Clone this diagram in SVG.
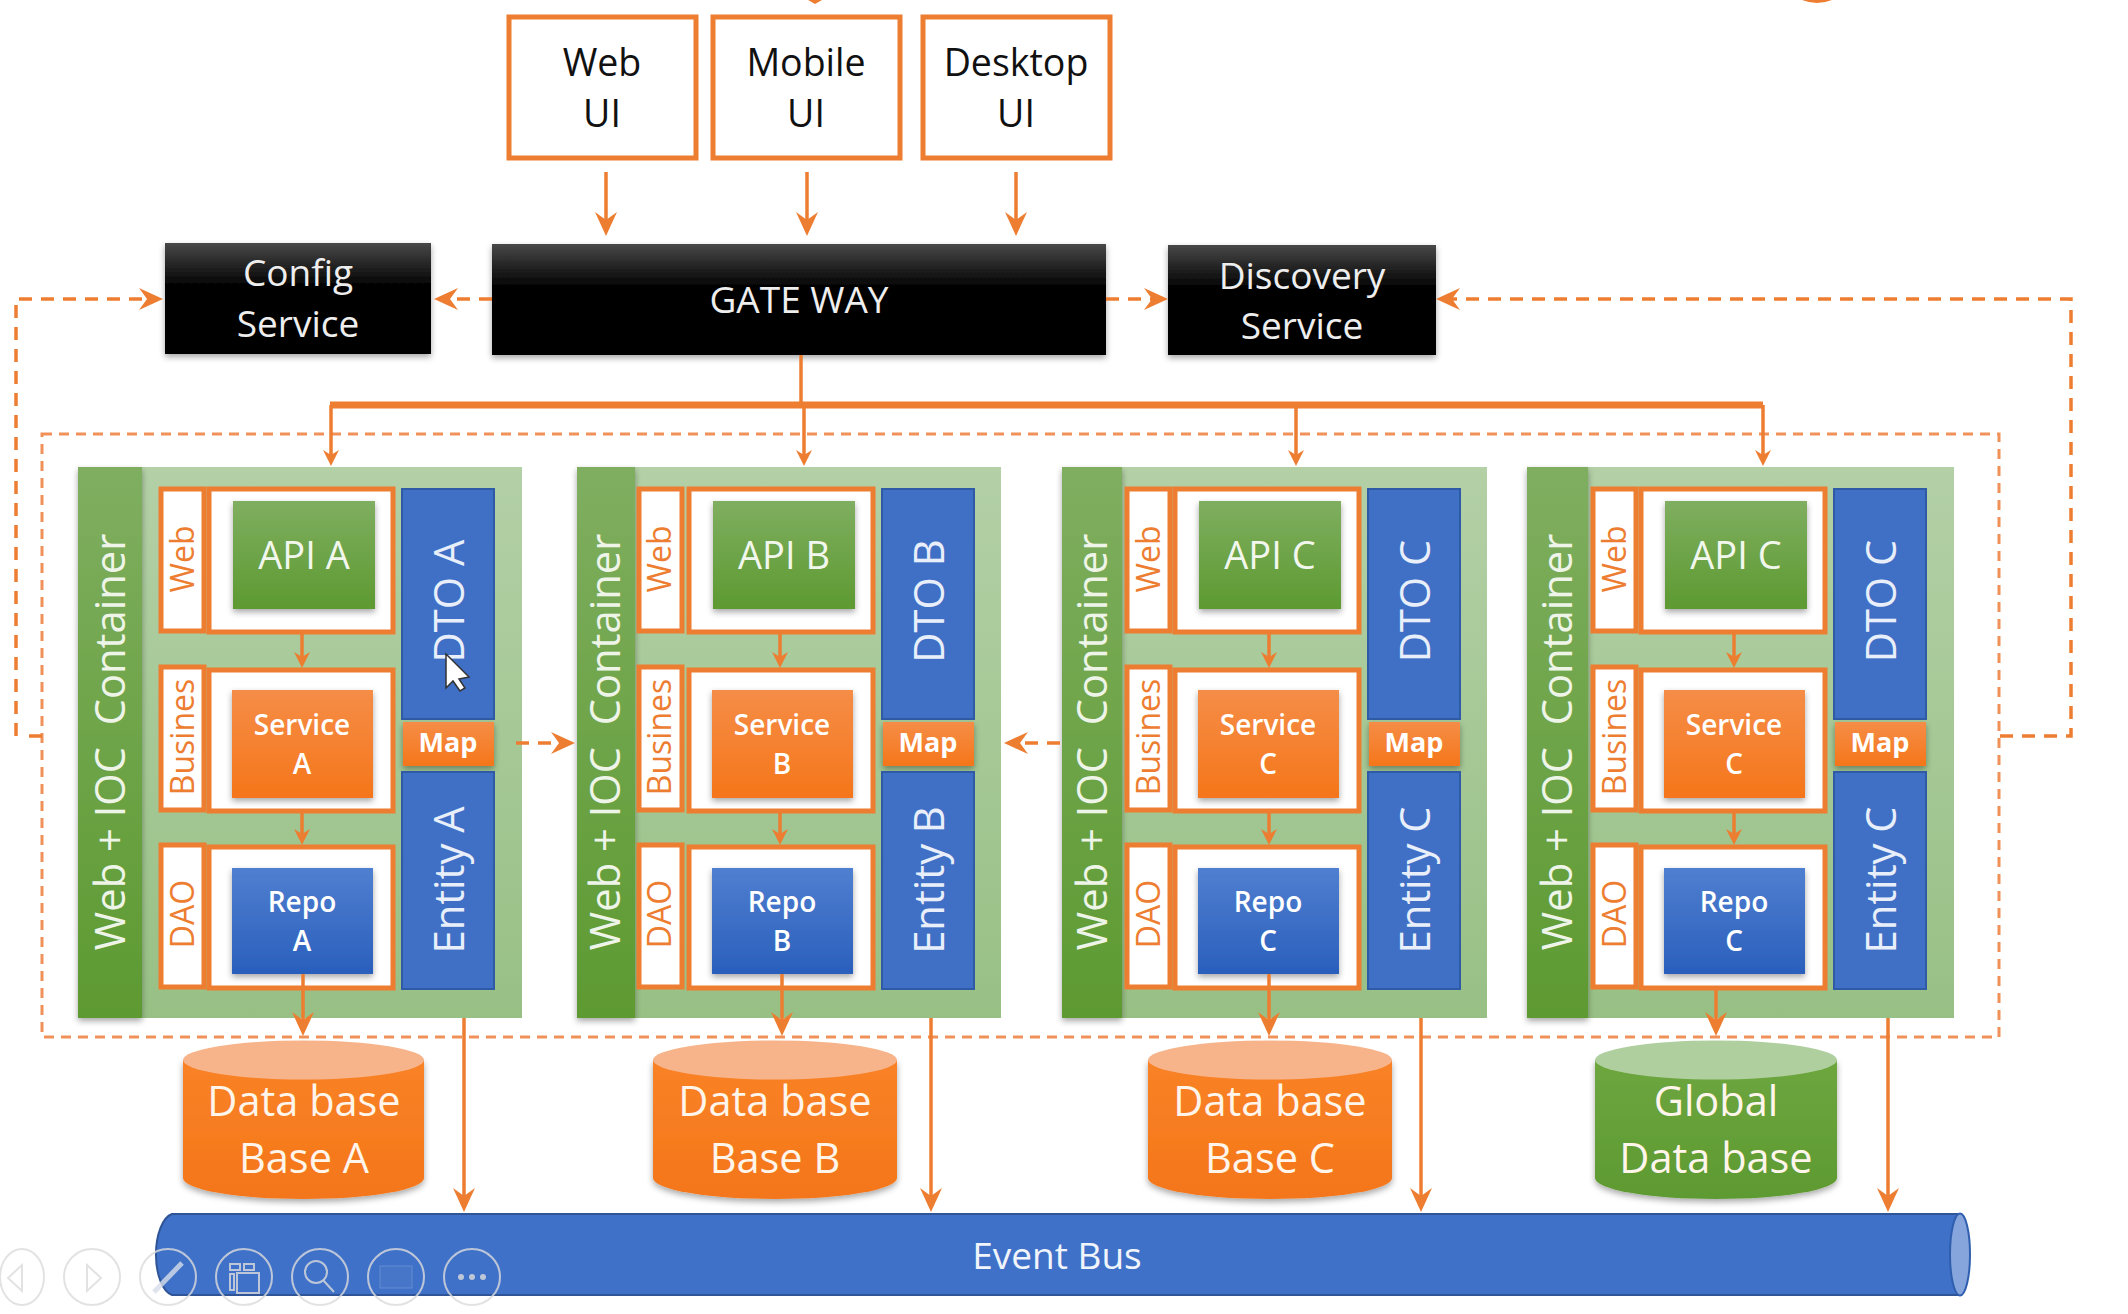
<svg xmlns="http://www.w3.org/2000/svg" width="2128" height="1314" viewBox="0 0 2128 1314">
<style>
text{font-family:"Open Sans","Noto Sans","Liberation Sans",sans-serif;text-anchor:middle;white-space:pre}
.ui{fill:#fff;stroke:#ed7d31;stroke-width:5}
.t-ui{font-size:37.500px;fill:#111}
.t-blk{font-size:37px;fill:#eee}
.blk{fill:url(#gBlack);filter:url(#sh)}
.bg{fill:url(#gBg)}
.strip{fill:url(#gGreen);filter:url(#sh)}
.t-strip{font-size:41.700px;fill:#eef5e8}
.lab{fill:#fff;stroke:#ed7d31;stroke-width:5}
.t-lab{font-size:32px;fill:#ed7d31}
.api{fill:url(#gGreen);filter:url(#sh)}
.t-api{font-size:38px;fill:#f2f7ee}
.svc{fill:url(#gOrange);filter:url(#sh)}
.rep{fill:url(#gBlue);filter:url(#sh)}
.t-sm{font-size:28px;font-weight:600;fill:#fff}
.dto{fill:#4070c6;stroke:#2f5ba6;stroke-width:2}
.t-dto{font-size:41.700px;fill:#e8effa}
.map{fill:url(#gOrange);filter:url(#sh)}
.t-map{font-size:27px;font-weight:700;fill:#fff}
.t-db{font-size:41.500px;fill:#fff5ea}
.c{fill:none;stroke:#ed7d31;stroke-width:3.500}
.d{fill:none;stroke:#ed7d31;stroke-width:3.500;stroke-dasharray:13 9}
.box{fill:none;stroke:#f0915a;stroke-width:3;stroke-dasharray:10 7}
.tool{fill:none;stroke:#dcdcdc;stroke-width:2}
.ah{fill:#ed7d31}
</style>
<defs>
<linearGradient id="gBlack" x1="0" y1="0" x2="0" y2="1"><stop offset="0" stop-color="#484848"/><stop offset=".4" stop-color="#000"/></linearGradient>
<linearGradient id="gBg" x1="0" y1="0" x2="0" y2="1"><stop offset="0" stop-color="#b3d0a6"/><stop offset="1" stop-color="#98c085"/></linearGradient>
<linearGradient id="gGreen" x1="0" y1="0" x2="0" y2="1"><stop offset="0" stop-color="#7fae60"/><stop offset="1" stop-color="#5d9a31"/></linearGradient>
<linearGradient id="gOrange" x1="0" y1="0" x2="0" y2="1"><stop offset="0" stop-color="#f58d47"/><stop offset="1" stop-color="#f5761a"/></linearGradient>
<linearGradient id="gDb" x1="0" y1="0" x2="0" y2="1"><stop offset="0" stop-color="#f98226"/><stop offset="1" stop-color="#f4761a"/></linearGradient>
<linearGradient id="gDbG" x1="0" y1="0" x2="0" y2="1"><stop offset="0" stop-color="#6ea63f"/><stop offset="1" stop-color="#5d9a31"/></linearGradient>
<linearGradient id="gBlue" x1="0" y1="0" x2="0" y2="1"><stop offset="0" stop-color="#4f7fd0"/><stop offset="1" stop-color="#2a5fbc"/></linearGradient>
<filter id="sh" x="-10%" y="-10%" width="120%" height="125%"><feDropShadow dx="0" dy="3" stdDeviation="3" flood-color="#000" flood-opacity=".35"/></filter>
<marker id="aB" markerUnits="userSpaceOnUse" markerWidth="26" markerHeight="24" refX="10" refY="12" orient="auto"><path class="ah" d="M0 1L24 12L0 23L8 12Z"/></marker>
<marker id="aS" markerUnits="userSpaceOnUse" markerWidth="18" markerHeight="18" refX="6" refY="9" orient="auto"><path class="ah" d="M0 1L16 9L0 17L5 9Z"/></marker>
</defs>
<rect width="2128" height="1314" fill="#fff"/>

<rect id="group-boundary" class="box" x="42" y="434" width="1957" height="603"/>
<path id="cut-off-top" d="M808 0H822L815 4ZM1802 0H1832Q1817 6 1802 0Z" fill="#ed7d31"/>

<g id="ui-web"><rect class="ui" x="509" y="17" width="187" height="141"/><text class="t-ui" x="602" y="76">Web</text><text class="t-ui" x="602" y="127">UI</text></g>
<g id="ui-mobile"><rect class="ui" x="713" y="17" width="187" height="141"/><text class="t-ui" x="806" y="76">Mobile</text><text class="t-ui" x="806" y="127">UI</text></g>
<g id="ui-desktop"><rect class="ui" x="923" y="17" width="187" height="141"/><text class="t-ui" x="1016" y="76">Desktop</text><text class="t-ui" x="1016" y="127">UI</text></g>

<g id="config-service"><rect class="blk" x="165" y="243" width="266" height="111"/><text class="t-blk" x="298" y="286">Config</text><text class="t-blk" x="298" y="337">Service</text></g>
<g id="gateway"><rect class="blk" x="492" y="244" width="614" height="111"/><text class="t-blk" x="799" y="313">GATE WAY</text></g>
<g id="discovery-service"><rect class="blk" x="1168" y="245" width="268" height="110"/><text class="t-blk" x="1302" y="289">Discovery</text><text class="t-blk" x="1302" y="339">Service</text></g>

<g id="container-a">
<rect class="bg" x="78" y="467" width="444" height="551"/>
<rect class="strip" x="78" y="467" width="64" height="551"/>
<text class="t-strip" transform="translate(125 742) rotate(-90)">Web + IOC  Container</text>
<rect class="lab" x="161" y="489" width="43" height="142"/><text class="t-lab" transform="translate(194 559) rotate(-90)">Web</text>
<rect class="ui" x="209" y="489" width="184" height="143"/><rect class="api" x="233" y="501" width="142" height="108"/><text class="t-api" x="304" y="569">API A</text>
<rect class="lab" x="161" y="667" width="43" height="143"/><text class="t-lab" transform="translate(194 737) rotate(-90)">Busines</text>
<rect class="ui" x="209" y="670" width="184" height="141"/><rect class="svc" x="232" y="690" width="141" height="108"/><text class="t-sm" x="302" y="735">Service</text><text class="t-sm" x="302" y="774">A</text>
<rect class="lab" x="161" y="845" width="43" height="142"/><text class="t-lab" transform="translate(194 914) rotate(-90)">DAO</text>
<rect class="ui" x="209" y="847" width="184" height="141"/><rect class="rep" x="232" y="868" width="141" height="106"/><text class="t-sm" x="302" y="912">Repo</text><text class="t-sm" x="302" y="951">A</text>
<rect class="dto" x="402" y="489" width="92" height="230"/><text class="t-dto" transform="translate(464 601) rotate(-90)">DTO A</text>
<rect class="map" x="403" y="722" width="91" height="44"/><text class="t-map" x="448" y="752">Map</text>
<rect class="dto" x="402" y="772" width="92" height="217"/><text class="t-dto" transform="translate(464 880) rotate(-90)">Entity A</text>
</g>

<g id="container-b">
<rect class="bg" x="577" y="467" width="424" height="551"/>
<rect class="strip" x="577" y="467" width="58" height="551"/>
<text class="t-strip" transform="translate(620 742) rotate(-90)">Web + IOC  Container</text>
<g transform="translate(480 0)">
<rect class="lab" x="159" y="489" width="43" height="142"/><text class="t-lab" transform="translate(191 559) rotate(-90)">Web</text>
<rect class="ui" x="209" y="489" width="184" height="143"/><rect class="api" x="233" y="501" width="142" height="108"/><text class="t-api" x="304" y="569">API B</text>
<rect class="lab" x="159" y="667" width="43" height="143"/><text class="t-lab" transform="translate(191 737) rotate(-90)">Busines</text>
<rect class="ui" x="209" y="670" width="184" height="141"/><rect class="svc" x="232" y="690" width="141" height="108"/><text class="t-sm" x="302" y="735">Service</text><text class="t-sm" x="302" y="774">B</text>
<rect class="lab" x="159" y="845" width="43" height="142"/><text class="t-lab" transform="translate(191 914) rotate(-90)">DAO</text>
<rect class="ui" x="209" y="847" width="184" height="141"/><rect class="rep" x="232" y="868" width="141" height="106"/><text class="t-sm" x="302" y="912">Repo</text><text class="t-sm" x="302" y="951">B</text>
<rect class="dto" x="402" y="489" width="92" height="230"/><text class="t-dto" transform="translate(464 601) rotate(-90)">DTO B</text>
<rect class="map" x="403" y="722" width="91" height="44"/><text class="t-map" x="448" y="752">Map</text>
<rect class="dto" x="402" y="772" width="92" height="217"/><text class="t-dto" transform="translate(464 880) rotate(-90)">Entity B</text>
</g></g>

<g id="container-c">
<rect class="bg" x="1062" y="467" width="425" height="551"/>
<rect class="strip" x="1062" y="467" width="60" height="551"/>
<text class="t-strip" transform="translate(1107 742) rotate(-90)">Web + IOC  Container</text>
<g transform="translate(966 0)">
<rect class="lab" x="161" y="489" width="43" height="142"/><text class="t-lab" transform="translate(194 559) rotate(-90)">Web</text>
<rect class="ui" x="209" y="489" width="184" height="143"/><rect class="api" x="233" y="501" width="142" height="108"/><text class="t-api" x="304" y="569">API C</text>
<rect class="lab" x="161" y="667" width="43" height="143"/><text class="t-lab" transform="translate(194 737) rotate(-90)">Busines</text>
<rect class="ui" x="209" y="670" width="184" height="141"/><rect class="svc" x="232" y="690" width="141" height="108"/><text class="t-sm" x="302" y="735">Service</text><text class="t-sm" x="302" y="774">C</text>
<rect class="lab" x="161" y="845" width="43" height="142"/><text class="t-lab" transform="translate(194 914) rotate(-90)">DAO</text>
<rect class="ui" x="209" y="847" width="184" height="141"/><rect class="rep" x="232" y="868" width="141" height="106"/><text class="t-sm" x="302" y="912">Repo</text><text class="t-sm" x="302" y="951">C</text>
<rect class="dto" x="402" y="489" width="92" height="230"/><text class="t-dto" transform="translate(464 601) rotate(-90)">DTO C</text>
<rect class="map" x="403" y="722" width="91" height="44"/><text class="t-map" x="448" y="752">Map</text>
<rect class="dto" x="402" y="772" width="92" height="217"/><text class="t-dto" transform="translate(464 880) rotate(-90)">Entity C</text>
</g></g>

<g id="container-d">
<rect class="bg" x="1527" y="467" width="427" height="551"/>
<rect class="strip" x="1527" y="467" width="61" height="551"/>
<text class="t-strip" transform="translate(1572 742) rotate(-90)">Web + IOC  Container</text>
<g transform="translate(1432 0)">
<rect class="lab" x="161" y="489" width="43" height="142"/><text class="t-lab" transform="translate(194 559) rotate(-90)">Web</text>
<rect class="ui" x="209" y="489" width="184" height="143"/><rect class="api" x="233" y="501" width="142" height="108"/><text class="t-api" x="304" y="569">API C</text>
<rect class="lab" x="161" y="667" width="43" height="143"/><text class="t-lab" transform="translate(194 737) rotate(-90)">Busines</text>
<rect class="ui" x="209" y="670" width="184" height="141"/><rect class="svc" x="232" y="690" width="141" height="108"/><text class="t-sm" x="302" y="735">Service</text><text class="t-sm" x="302" y="774">C</text>
<rect class="lab" x="161" y="845" width="43" height="142"/><text class="t-lab" transform="translate(194 914) rotate(-90)">DAO</text>
<rect class="ui" x="209" y="847" width="184" height="141"/><rect class="rep" x="232" y="868" width="141" height="106"/><text class="t-sm" x="302" y="912">Repo</text><text class="t-sm" x="302" y="951">C</text>
<rect class="dto" x="402" y="489" width="92" height="230"/><text class="t-dto" transform="translate(464 601) rotate(-90)">DTO C</text>
<rect class="map" x="403" y="722" width="91" height="44"/><text class="t-map" x="448" y="752">Map</text>
<rect class="dto" x="402" y="772" width="92" height="217"/><text class="t-dto" transform="translate(464 880) rotate(-90)">Entity C</text>
</g></g>

<g id="db-a"><path d="M183 1060V1178A120.500 21 0 0 0 424 1178V1060Z" fill="url(#gDb)" filter="url(#sh)"/><ellipse cx="303.500" cy="1060" rx="120.500" ry="19.500" fill="#f7b48a"/><text class="t-db" x="304" y="1116">Data base</text><text class="t-db" x="304" y="1173">Base A</text></g>
<g id="db-b"><path d="M653 1060V1178A122 21 0 0 0 897 1178V1060Z" fill="url(#gDb)" filter="url(#sh)"/><ellipse cx="775" cy="1060" rx="122" ry="19.500" fill="#f7b48a"/><text class="t-db" x="775" y="1116">Data base</text><text class="t-db" x="775" y="1173">Base B</text></g>
<g id="db-c"><path d="M1148 1060V1178A122 21 0 0 0 1392 1178V1060Z" fill="url(#gDb)" filter="url(#sh)"/><ellipse cx="1270" cy="1060" rx="122" ry="19.500" fill="#f7b48a"/><text class="t-db" x="1270" y="1116">Data base</text><text class="t-db" x="1270" y="1173">Base C</text></g>
<g id="db-global"><path d="M1595 1060V1178A121 21 0 0 0 1837 1178V1060Z" fill="url(#gDbG)" filter="url(#sh)"/><ellipse cx="1716" cy="1060" rx="121" ry="19.500" fill="#afcf9f"/><text class="t-db" x="1716" y="1116">Global</text><text class="t-db" x="1716" y="1173">Data base</text></g>

<g id="event-bus"><path d="M172 1214H1960A10 41 0 0 1 1960 1295H172A19 41 0 0 1 172 1214Z" fill="#3f71c8" stroke="#2f5597" stroke-width="2"/><ellipse cx="1960" cy="1254.500" rx="10" ry="41" fill="#86a5dc" stroke="#2f5fae" stroke-width="2"/><text x="1057" y="1269" font-size="37" fill="#f0f4fb">Event Bus</text></g>

<g id="connectors">
<path class="c" d="M606 172V222" marker-end="url(#aB)"/>
<path class="c" d="M807 172V222" marker-end="url(#aB)"/>
<path class="c" d="M1016 172V222" marker-end="url(#aB)"/>
<path class="d" d="M492 299H448" marker-end="url(#aB)"/>
<path class="d" d="M1106 299H1154" marker-end="url(#aB)"/>
<path class="d" d="M16 736V299H149" marker-end="url(#aB)"/>
<path class="d" d="M42 736H28"/>
<path class="d" d="M2000 736H2071V299H1450" marker-end="url(#aB)"/>
<path class="c" d="M801 355V405"/>
<path fill="none" stroke="#ed7d31" stroke-width="7" d="M330 405H1763"/>
<path class="c" d="M331 405V456" marker-end="url(#aS)"/>
<path class="c" d="M804 405V456" marker-end="url(#aS)"/>
<path class="c" d="M1296 405V456" marker-end="url(#aS)"/>
<path class="c" d="M1763 405V456" marker-end="url(#aS)"/>
<path class="c" d="M302 633V658" marker-end="url(#aS)"/>
<path class="c" d="M302 812V835" marker-end="url(#aS)"/>
<path class="c" d="M780 633V658" marker-end="url(#aS)"/>
<path class="c" d="M780 812V835" marker-end="url(#aS)"/>
<path class="c" d="M1269 633V658" marker-end="url(#aS)"/>
<path class="c" d="M1269 812V835" marker-end="url(#aS)"/>
<path class="c" d="M1734 633V658" marker-end="url(#aS)"/>
<path class="c" d="M1734 812V835" marker-end="url(#aS)"/>
<path class="c" d="M303 974V1022" marker-end="url(#aB)"/>
<path class="c" d="M782 974V1022" marker-end="url(#aB)"/>
<path class="c" d="M1269 974V1022" marker-end="url(#aB)"/>
<path class="c" d="M1716 989V1022" marker-end="url(#aB)"/>
<path class="c" d="M464 1018V1198" marker-end="url(#aB)"/>
<path class="c" d="M931 1018V1198" marker-end="url(#aB)"/>
<path class="c" d="M1421 1018V1198" marker-end="url(#aB)"/>
<path class="c" d="M1888 1018V1198" marker-end="url(#aB)"/>
<path class="d" d="M516 743H561" marker-end="url(#aB)"/>
<path class="d" d="M1060 743H1018" marker-end="url(#aB)"/>
</g>

<g id="cursor"><path d="M446 654L446 688L453 681L460 691L465 688L459 679L469 677Z" fill="#fff" stroke="#333" stroke-width="1.500"/></g>

<g id="slide-toolbar" opacity=".8">
<ellipse class="tool" cx="22" cy="1277" rx="22" ry="28"/><path class="tool" d="M22 1265L8 1278L22 1291Z"/>
<ellipse class="tool" cx="92" cy="1277" rx="28" ry="28"/><path class="tool" d="M87 1265L101 1278L87 1291Z"/>
<ellipse class="tool" cx="168" cy="1277" rx="28" ry="28"/><path d="M154 1292L182 1263" stroke="#d7dde9" stroke-width="5"/>
<ellipse class="tool" cx="244" cy="1277" rx="28" ry="28"/><path class="tool" d="M237 1273h22v20h-22zM230 1264h10v6h-10zM244 1264h10v6h-10zM230 1274h4v16h-4z"/>
<ellipse class="tool" cx="320" cy="1277" rx="28" ry="28"/><circle class="tool" cx="316" cy="1272" r="11"/><path class="tool" d="M323 1280L334 1292"/>
<ellipse class="tool" cx="396" cy="1277" rx="28" ry="28"/><rect x="380" y="1266" width="32" height="22" fill="#4a78ca" stroke="#6f92d2"/>
<ellipse class="tool" cx="472" cy="1277" rx="28" ry="28"/><circle cx="461" cy="1277" r="3" fill="#ddd"/><circle cx="472" cy="1277" r="3" fill="#ddd"/><circle cx="483" cy="1277" r="3" fill="#ddd"/>
</g>
</svg>
